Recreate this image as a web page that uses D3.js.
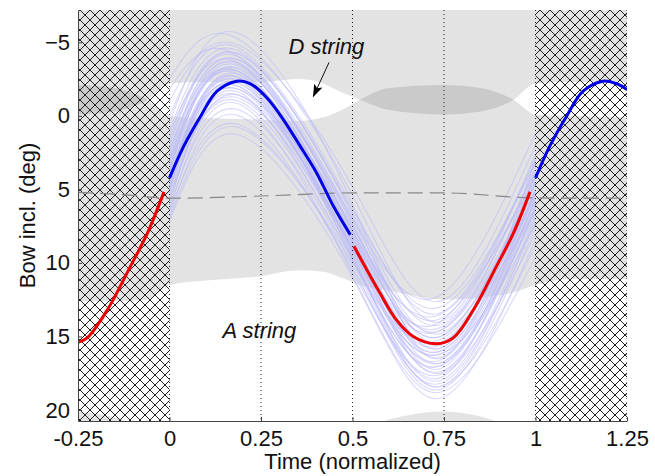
<!DOCTYPE html>
<html>
<head>
<meta charset="utf-8">
<script src="https://cdn.jsdelivr.net/npm/d3@7"></script>
<style>
body { margin: 0; background: #fff; }
svg { display: block; font-family: "Liberation Sans", Arial, sans-serif; }
</style>
</head>
<body>
<script>
// axis ticks
var xTicks = [-0.25, 0, 0.25, 0.5, 0.75, 1, 1.25];
var xTickLabels = ["-0.25", "0", "0.25", "0.5", "0.75", "1", "1.25"];
var yTicks = [-5, 0, 5, 10, 15, 20];
var gridX = [0, 0.25, 0.5, 0.75, 1, 1.25];

// shaded string zones (deg), sampled along time
var bandX =         [-0.25, -0.15, -0.06, 0,    0.1,  0.25, 0.35, 0.42, 0.47, 0.52, 0.6,  0.75, 0.85, 0.94, 1.0,  1.1,  1.25];
var upperZoneEdge = [-0.1,  -0.3,  -1.1,  -2.2, -2.3, -2.3, -2.5, -2.2, -1.6, -1.1, -0.4, -0.1, -0.3, -1.1, -2.2, -2.3, -2.3];
var midZoneTop =    [-2.1,  -1.9,  -1.1,  0.0,  0.15, 0.25, 0.35, 0.1,  -0.4, -1.1, -1.9, -2.1, -1.9, -1.1, -0.1, 0.0,  0.1];
var midZoneBottom = [12.6,  12.6,  12.5,  11.5, 11.2, 10.9, 10.5, 10.6, 11.0, 11.5, 11.9, 12.5, 12.35, 12.0, 11.5, 11.1, 11.1];
var lowZoneTop =    [20.1,  20.5,  21.3,  21.6, 21.6, 21.6, 21.6, 21.6, 21.6, 21.3, 20.65, 20.1, 20.45, 21.2, 21.6, 21.6, 21.6];

// mean bow inclination (dashed)
var meanX = [-0.25, -0.1, 0, 0.25, 0.5, 0.75, 1.0, 1.25];
var meanY = [5.2, 5.4, 5.6, 5.45, 5.24, 5.24, 5.58, 5.6];

// representative cycle, split in segments
var redLeftX = [-0.25, -0.225, -0.17, -0.106, -0.06, -0.015];
var redLeftY = [15.4, 15.1, 13.2, 10.2, 7.96, 5.17];
var blueMidX = [0, 0.039, 0.085, 0.13, 0.184, 0.22, 0.266, 0.311, 0.357, 0.402, 0.448, 0.494];
var blueMidY = [4.22, 2.06, 0.02, -1.68, -2.36, -2.2, -1.23, 0.25, 2.06, 3.88, 6.15, 8.08];
var redMidX = [0.504, 0.575, 0.62, 0.666, 0.73, 0.775, 0.83, 0.894, 0.94, 0.985];
var redMidY = [8.87, 12.05, 13.87, 15.0, 15.5, 15.1, 13.2, 10.2, 7.96, 5.17];
var blueRightX = [1.0, 1.039, 1.085, 1.13, 1.184, 1.22, 1.25];
var blueRightY = [4.22, 2.06, 0.02, -1.68, -2.36, -2.2, -1.8];

// individual cycles: value at start, peak, half, trough, end
var cycleKeyX = [0, 0.19, 0.5, 0.74, 1.0];
var cycles = [
  [4.2, -2.4, 8.4, 15.5, 5.2],
  [3.5, -3.0, 7.8, 15.0, 4.5],
  [5.0, -1.8, 9.2, 16.2, 5.8],
  [1.5, -4.2, 6.6, 14.2, 3.6],
  [5.6, -1.0, 9.8, 17.0, 6.4],
  [0.5, -5.6, 6.0, 16.5, 3.0],
  [6.5, 0.6, 10.4, 18.2, 7.2],
  [3.2, -3.5, 7.8, 13.5, 4.2],
  [4.6, -2.0, 9.4, 17.8, 5.6],
  [-1.0, -4.8, 4.8, 12.6, 2.0],
  [7.2, 1.3, 11.0, 19.2, 8.4],
  [4.8, -2.8, 8.8, 16.8, 6.0],
  [2.4, -3.8, 7.2, 15.8, 4.0],
  [5.2, -1.4, 9.0, 14.6, 5.0],
  [1.0, -4.4, 6.4, 13.0, 3.2],
  [6.2, -0.4, 10.2, 18.6, 7.6],
  [3.0, -3.2, 7.0, 14.8, 4.4],
  [4.4, -2.2, 8.6, 16.0, 5.4],
  [2.0, -4.0, 8.0, 17.2, 5.0],
  [6.0, -1.6, 9.8, 15.2, 6.4],
  [3.8, -2.6, 7.6, 13.8, 3.8],
  [3.4, -3.4, 8.4, 17.5, 6.2],
  [-2.5, -5.2, 5.4, 14.0, 2.6],
  [6.8, 0.0, 10.6, 17.6, 8.0],
  [4.0, -2.0, 9.0, 15.6, 5.2],
  [2.8, -3.6, 7.8, 16.4, 5.0],
  [5.4, -1.2, 9.6, 18.4, 7.0],
  [1.8, -4.2, 6.8, 15.4, 3.8],
  [4.6, -2.6, 8.2, 14.4, 4.6],
  [3.6, -3.0, 9.2, 16.6, 5.8],
  [6.4, -0.8, 10.8, 18.8, 9.6],
  [2.6, -3.8, 7.4, 14.6, 3.4],
  [4.8, -2.4, 9.6, 17.0, 6.6],
  [0.0, -4.6, 6.2, 13.4, 2.8],
  [7.0, 0.8, 10.0, 16.2, 7.4],
  [4.2, -1.8, 8.0, 15.0, 4.6],
  [3.0, -2.8, 9.4, 18.0, 6.8],
  [3.8, -3.2, 8.6, 16.0, 5.4],
  [1.2, -3.6, 7.0, 12.2, 1.2],
  [5.8, -1.4, 9.0, 17.4, 6.2],
  [-1.8, -4.0, 7.4, 15.8, 4.0],
  [5.0, -2.2, 8.8, 14.0, 3.0],
  [2.2, -3.0, 8.2, 16.8, 5.6],
  [4.4, -2.6, 9.8, 18.4, 8.8]
];

var width = 655, height = 476;
var margin = {top: 10, right: 28, bottom: 55, left: 78};

var x = d3.scaleLinear().domain([-0.25, 1.25]).range([margin.left, width - margin.right]);
var y = d3.scaleLinear().domain([-7.2, 20.75]).range([margin.top, height - margin.bottom]);

var svg = d3.select("body").append("svg")
  .attr("width", width)
  .attr("height", height);

var defs = svg.append("defs");
defs.append("clipPath").attr("id", "plot")
  .append("rect")
  .attr("x", x(-0.25)).attr("y", y(-7.2))
  .attr("width", x(1.25) - x(-0.25)).attr("height", y(20.75) - y(-7.2));

// cross hatch, crisp 1px lines
var hatch = defs.append("pattern")
  .attr("id", "hatch")
  .attr("patternUnits", "userSpaceOnUse")
  .attr("x", 0).attr("y", 0)
  .attr("width", 10).attr("height", 10);
hatch.append("path")
  .attr("d", "M-1,-1L11,11M11,-1L-1,11")
  .attr("stroke", "#222").attr("stroke-width", 1).attr("fill", "none")
  .attr("shape-rendering", "crispEdges");

defs.append("marker")
  .attr("id", "arrow")
  .attr("markerUnits", "userSpaceOnUse")
  .attr("viewBox", "0 -5 13 10")
  .attr("refX", 12).attr("refY", 0)
  .attr("markerWidth", 13).attr("markerHeight", 10)
  .attr("orient", "auto")
  .append("path")
  .attr("d", "M0,-4.5L13,0L0,4.5L3,0Z")
  .attr("fill", "#000");

var plot = svg.append("g").attr("clip-path", "url(#plot)");

// gray zones
var zones = [
  {top: bandX.map(function() { return -7.2; }), bottom: upperZoneEdge},
  {top: midZoneTop, bottom: midZoneBottom},
  {top: lowZoneTop, bottom: bandX.map(function() { return 21.6; })}
];
var zoneArea = d3.area()
  .x(function(d) { return x(d.x); })
  .y0(function(d) { return y(d.a); })
  .y1(function(d) { return y(d.b); })
  .curve(d3.curveMonotoneX);
plot.selectAll("path.zone")
  .data(zones)
  .enter()
  .append("path")
  .classed("zone", true)
  .attr("d", function(z) {
    return zoneArea(bandX.map(function(v, i) { return {x: v, a: z.top[i], b: z.bottom[i]}; }));
  })
  .attr("fill", "#000")
  .attr("fill-opacity", 0.11);

var line = d3.line()
  .x(function(d) { return x(d[0]); })
  .y(function(d) { return y(d[1]); });

// individual cycles
plot.selectAll("path.cycle")
  .data(cycles)
  .enter()
  .append("path")
  .classed("cycle", true)
  .attr("d", function(c) {
    return line.curve(d3.curveNatural)(cycleKeyX.map(function(v, i) { return [v, c[i]]; }));
  })
  .attr("fill", "none")
  .attr("stroke", "rgb(185,185,250)")
  .attr("stroke-opacity", 0.55)
  .attr("stroke-width", 1.1);

// dotted time grid
plot.selectAll("line.grid")
  .data(gridX)
  .enter()
  .append("line")
  .classed("grid", true)
  .attr("x1", function(d) { return x(d); })
  .attr("x2", function(d) { return x(d); })
  .attr("y1", y(-7.2))
  .attr("y2", y(20.75))
  .attr("stroke", "#222")
  .attr("stroke-width", 1)
  .attr("stroke-dasharray", "1,3");

// hatched out-of-cycle parts
plot.selectAll("rect.hatch")
  .data([[-0.25, 0], [1, 1.25]])
  .enter()
  .append("rect")
  .classed("hatch", true)
  .attr("x", function(d) { return x(d[0]); })
  .attr("width", function(d) { return x(d[1]) - x(d[0]); })
  .attr("y", y(-7.2))
  .attr("height", y(20.75) - y(-7.2))
  .attr("fill", "url(#hatch)");

// mean line
plot.append("path")
  .attr("d", line.curve(d3.curveMonotoneX)(meanX.map(function(v, i) { return [v, meanY[i]]; })))
  .attr("fill", "none")
  .attr("stroke", "#888")
  .attr("stroke-width", 1.2)
  .attr("stroke-dasharray", "15,7");

// representative cycle
var segments = [
  {xs: redLeftX, ys: redLeftY, color: "#ee0000"},
  {xs: blueMidX, ys: blueMidY, color: "#0000e6"},
  {xs: redMidX, ys: redMidY, color: "#ee0000"},
  {xs: blueRightX, ys: blueRightY, color: "#0000e6"}
];
plot.selectAll("path.seg")
  .data(segments)
  .enter()
  .append("path")
  .classed("seg", true)
  .attr("d", function(s) {
    return line.curve(d3.curveCatmullRom)(s.xs.map(function(v, i) { return [v, s.ys[i]]; }));
  })
  .attr("fill", "none")
  .attr("stroke", function(s) { return s.color; })
  .attr("stroke-width", 3);

// axes
var xAxis = svg.append("g")
  .attr("transform", "translate(0," + y(20.75) + ")")
  .call(d3.axisBottom(x).tickValues(xTicks).tickFormat(function(d, i) { return xTickLabels[i]; })
    .tickSize(-4).tickSizeOuter(0).tickPadding(9));
var yAxis = svg.append("g")
  .attr("transform", "translate(" + x(-0.25) + ",0)")
  .call(d3.axisLeft(y).tickValues(yTicks).tickFormat(d3.format("d"))
    .tickSize(-4).tickSizeOuter(0).tickPadding(8));
[xAxis, yAxis].forEach(function(g) {
  g.attr("font-family", null).attr("font-size", 22);
  g.selectAll("text").attr("fill", "#111");
  g.select(".domain").attr("stroke", "#444");
  g.selectAll(".tick line").attr("stroke", "#444");
});

svg.append("text")
  .attr("x", (x(-0.25) + x(1.25)) / 2)
  .attr("y", 469)
  .attr("text-anchor", "middle")
  .attr("font-size", 22)
  .attr("fill", "#111")
  .text("Time (normalized)");

svg.append("text")
  .attr("transform", "translate(35," + (y(-7.2) + y(20.75)) / 2 + ") rotate(-90)")
  .attr("text-anchor", "middle")
  .attr("font-size", 22)
  .attr("fill", "#111")
  .text("Bow incl. (deg)");

// annotations
svg.append("text")
  .attr("x", x(0.325)).attr("y", y(-4.18))
  .attr("font-size", 22).attr("font-style", "italic").attr("fill", "#111")
  .text("D string");
svg.append("line")
  .attr("x1", x(0.436)).attr("y1", y(-3.64))
  .attr("x2", x(0.393)).attr("y2", y(-1.32))
  .attr("stroke", "#111").attr("stroke-width", 1)
  .attr("marker-end", "url(#arrow)");
svg.append("text")
  .attr("x", x(0.145)).attr("y", y(15.1))
  .attr("font-size", 22).attr("font-style", "italic").attr("fill", "#111")
  .text("A string");
</script>
</body>
</html>
